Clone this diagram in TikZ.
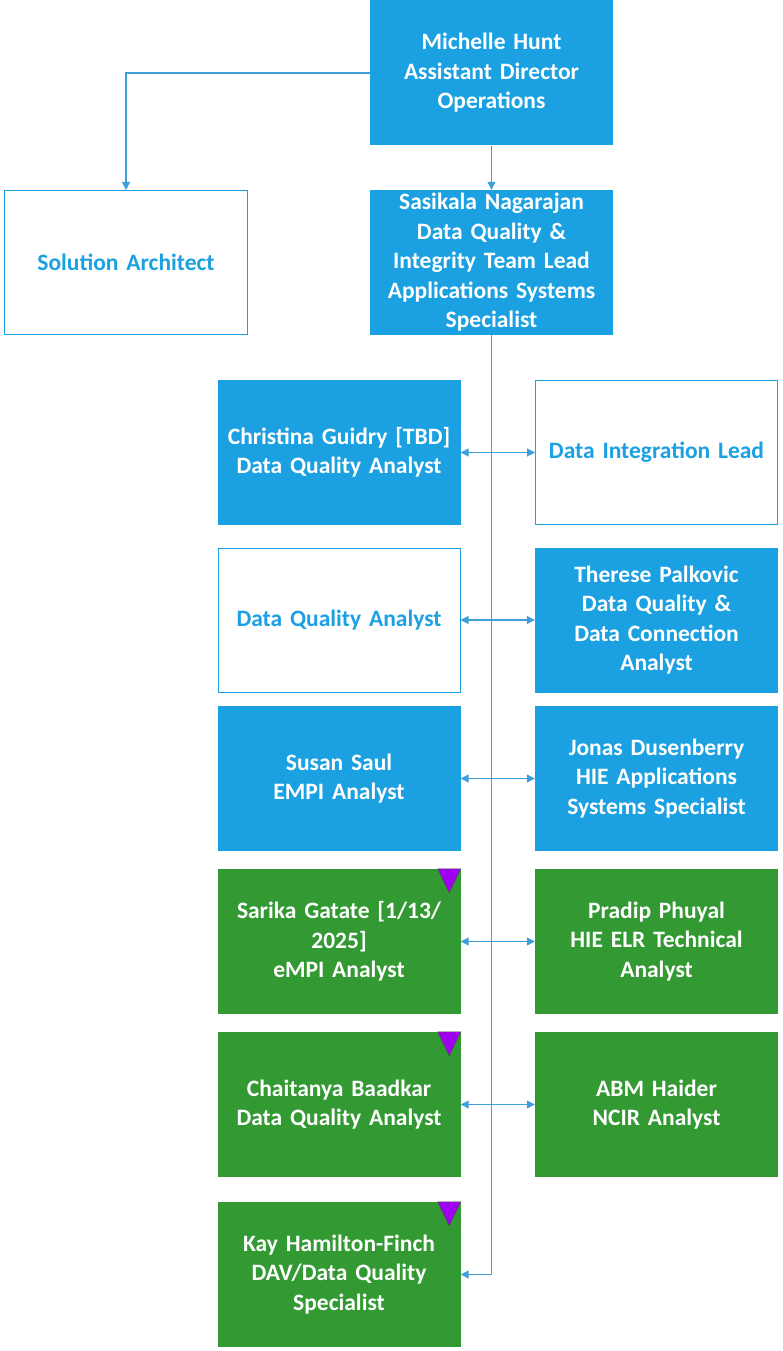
\documentclass[tikz,border=0pt]{standalone}
\usepackage{fontspec}
\setmainfont{Carlito}
\usetikzlibrary{arrows.meta}
\definecolor{vblue}{HTML}{1BA1E2}
\definecolor{vgreen}{HTML}{339933}
\definecolor{vline}{HTML}{3E9FD9}
\definecolor{vpurple}{HTML}{A000F0}
\begin{document}
\begin{tikzpicture}[x=1bp,y=-1bp,
  box/.style={minimum width=243bp,minimum height=145bp,inner sep=0pt,align=center,
    font=\fontsize{23.5bp}{29.5bp}\selectfont\bfseries,text width=238bp},
  bluebox/.style={box,fill=vblue,text=white},
  greenbox/.style={box,fill=vgreen,text=white},
  openbox/.style={box,draw=vblue,line width=1bp,fill=white,text=vblue,minimum width=242bp,minimum height=144bp},
  conn/.style={draw=vline,line width=1.1bp},
  tip/.style={-{Triangle[length=8bp,width=8bp]}},
  both/.style={{Triangle[length=8bp,width=8bp]}-{Triangle[length=8bp,width=8bp]}},
  flag/.style={fill=vpurple,draw=black!70,line width=0.5bp}]
\useasboundingbox (0,0) rectangle (782,1351);
\node[bluebox] (mh) at (491.5,73) {Michelle Hunt\\Assistant Director\\Operations};
\node[bluebox] (sn) at (491.5,262.5) {Sasikala Nagarajan\\Data Quality \&\\Integrity Team Lead\\Applications Systems\\Specialist};
\node[openbox] (sa) at (126,262.5) {Solution Architect};
\node[bluebox] (cg) at (339,452.5) {Christina Guidry [TBD]\\Data Quality Analyst};
\node[openbox] (di) at (656.5,452.5) {Data Integration Lead};
\node[openbox] (dq) at (339,620) {Data Quality Analyst};
\node[bluebox] (tp) at (656.5,620) {Therese Palkovic\\Data Quality \&\\Data Connection\\Analyst};
\node[bluebox] (ss) at (339,778.5) {Susan Saul\\EMPI Analyst};
\node[bluebox] (jd) at (656.5,778.5) {Jonas Dusenberry\\HIE Applications\\Systems Specialist};
\node[greenbox] (sg) at (339,941.5) {Sarika Gatate [1/13/\\2025]\\eMPI Analyst};
\node[greenbox] (pp) at (656.5,941.5) {Pradip Phuyal\\HIE ELR Technical\\Analyst};
\node[greenbox] (cb) at (339,1104.5) {Chaitanya Baadkar\\Data Quality Analyst};
\node[greenbox] (ah) at (656.5,1104.5) {ABM Haider\\NCIR Analyst};
\node[greenbox] (kh) at (339,1274.5) {Kay Hamilton-Finch\\DAV/Data Quality\\Specialist};
% flags
\foreach \b in {sg,cb,kh}{
  \draw[flag] ([xshift=-23bp]\b.north east) -- (\b.north east) -- ([xshift=-11.5bp,yshift=-24bp]\b.north east) -- cycle;
}
% connectors
\coordinate (trunkend) at (491.5,1274.5);
\draw[conn,tip] (mh.west) -| (sa.north);
\draw[conn,tip] (mh.south) -- (sn.north);
\draw[conn] (sn.south) -- (trunkend);
\draw[conn,both] (cg.east) -- (di.west);
\draw[conn,both] (dq.east) -- (tp.west);
\draw[conn,both] (ss.east) -- (jd.west);
\draw[conn,both] (sg.east) -- (pp.west);
\draw[conn,both] (cb.east) -- (ah.west);
\draw[conn,tip] (trunkend) -- (kh.east);
\end{tikzpicture}
\end{document}
